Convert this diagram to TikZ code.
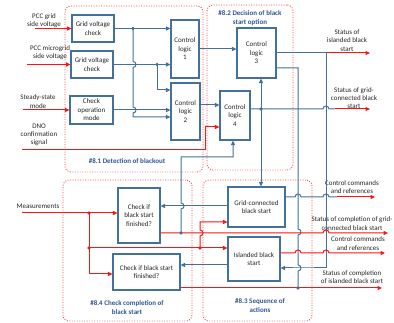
\documentclass[tikz,border=0pt]{standalone}
\usepackage{fontspec}
\setmainfont{Carlito}
\usetikzlibrary{arrows.meta}
\definecolor{bl}{RGB}{65,113,156}
\definecolor{lb}{RGB}{47,85,151}
\definecolor{rd}{RGB}{250,20,20}
\begin{document}
\begin{tikzpicture}[x=1pt,y=-1pt,
  blk/.style={draw=bl, line width=1.1pt, fill=white, align=center, inner sep=1pt, font=\fontsize{7}{8.5}\selectfont, text=black!85},
  txt/.style={align=center, inner sep=0pt, font=\fontsize{7}{8.2}\selectfont, text=black!85},
  lbl/.style={align=center, inner sep=0pt, font=\fontsize{7}{9}\selectfont\bfseries, text=lb},
  region/.style={draw=rd!80, line width=0.9pt, dash pattern=on 0.9pt off 1.6pt, rounded corners=6pt, inner sep=0pt},
  bline/.style={draw=bl, line width=1pt},
  rline/.style={draw=rd, line width=1pt},
  tip/.style={-{Triangle[length=4.5pt,width=4pt]}},
  jdot/.style={circle, fill=#1, inner sep=0pt, minimum size=3.2pt},
]
\useasboundingbox (0,0) rectangle (394,323);

% regions
\node[region, minimum width=138pt, minimum height=166pt] (r81) at (134,89) {};
\node[region, minimum width=86pt, minimum height=165pt] (r82) at (250,87.5) {};
\node[region, minimum width=129pt, minimum height=141pt] (r84) at (127.5,250.5) {};
\node[region, minimum width=109pt, minimum height=141pt] (r83) at (257.5,250.5) {};

\node[lbl] (l81) at (127,161) {\#8.1 Detection of blackout};
\node[lbl] (l82) at (250,18) {\#8.2 Decision of black\\start option};
\node[lbl] (l83) at (260,306) {\#8.3 Sequence of\\actions};
\node[lbl] (l84) at (127,307.5) {\#8.4 Check completion of\\black start};

% blocks
\node[blk, minimum width=42pt, minimum height=27pt] (gvc1) at (93,28.5) {Grid voltage\\check};
\node[blk, minimum width=42pt, minimum height=27pt] (gvc2) at (92,64.5) {Grid voltage\\check};
\node[blk, minimum width=43pt, minimum height=28pt] (com) at (91.5,110) {Check\\operation\\mode};
\node[blk, minimum width=28pt, minimum height=58pt] (cl1) at (185,49) {Control\\logic\\1};
\node[blk, minimum width=29pt, minimum height=57pt] (cl2) at (185.5,111.5) {Control\\logic\\2};
\node[blk, minimum width=39pt, minimum height=50pt] (cl3) at (256.5,53) {Control\\logic\\3};
\node[blk, minimum width=30pt, minimum height=49pt] (cl4) at (235,115.5) {Control\\logic\\4};
\node[blk, minimum width=42pt, minimum height=55pt] (chk1) at (139,215.5) {Check if\\black start\\finished?};
\node[blk, minimum width=67pt, minimum height=36pt] (chk2) at (146.5,272) {Check if black start\\finished?};
\node[blk, minimum width=57pt, minimum height=40pt] (gcbs) at (256.5,207) {Grid-connected\\black start};
\node[blk, minimum width=52pt, minimum height=44pt] (ibs) at (254,259) {Islanded black\\start};

% input texts
\node[txt] (t1) at (44,20.5) {PCC grid\\side voltage};
\node[txt] (t2) at (50,53) {PCC microgrid\\side voltage};
\node[txt] (t3) at (38,101.5) {Steady-state\\mode};
\node[txt] (t4) at (39,135) {DNO\\confirmation\\signal};
\node[txt] (t5) at (38,206) {Measurements};

% output texts
\node[txt] (o1t) at (347,40.5) {Status of\\islanded black\\start};
\node[txt] (o2t) at (354,98) {Status of grid-\\connected black\\start};
\node[txt] (o3t) at (352,187) {Control commands\\and references};
\node[txt] (o4t) at (352,223.5) {Status of completion of grid-\\connected black start};
\node[txt] (o5t) at (358,243.5) {Control commands\\and references};
\node[txt] (o6t) at (352,277) {Status of completion\\of islanded black start};

% free ends
\coordinate (in1) at (35,28.5);
\coordinate (in2) at (27,64.5);
\coordinate (in3) at (23,110);
\coordinate (in4) at (22,150);
\coordinate (in5) at (22,213);
\coordinate (out1) at (370,53);
\coordinate (out2) at (370,109);
\coordinate (out3) at (375,197);
\coordinate (out4) at (388,233);
\coordinate (out5) at (385,253);
\coordinate (out6) at (382,288);

% junctions
\node[jdot=bl] (j1) at (133,28.5) {};
\node[jdot=bl] (j2) at (157,64.5) {};
\node[jdot=bl] (j3) at (261,109) {};
\node[jdot=bl] (j4) at (181,233) {};
\node[jdot=rd] (j5) at (89,213) {};
\node[jdot=rd] (j6) at (89,248) {};
\node[jdot=rd] (j7) at (200,248) {};
\node[jdot=bl] (j8) at (298,288) {};

% inputs (red)
\draw[rline,tip] (in1) -- (in1 -| gvc1.west);
\draw[rline,tip] (in2) -- (in2 -| gvc2.west);
\draw[rline,tip] (in3) -- (in3 -| com.west);
\draw[rline,tip] (in4) -- (205,150) -- (205,127) -- (cl4.west |- 0,127);

% detection of blackout
\draw[bline,tip] (gvc1.east) -- (gvc1.east -| cl1.west);
\draw[bline,tip] (gvc2.east) -- (gvc2.east -| cl1.west);
\draw[bline,tip] (com.east) -- (com.east -| cl2.west);
\draw[bline,tip] (j1.center) -- (133,61.5) arc[start angle=90,end angle=-90,radius=3pt]
  -- (133,107) arc[start angle=90,end angle=-90,radius=3pt] -- (133,117) -- (cl2.west |- 0,117);
\draw[bline,tip] (j2.center) -- (157,90) -- (cl2.west |- 0,90);

% decision
\draw[bline,tip] (cl1.east) -- (cl1.east -| cl3.west);
\draw[bline,tip] (cl2.east |- 0,105) -- (cl4.west |- 0,105);
\draw[bline] (cl4.east |- 0,109) -- (323,109) arc[start angle=180,end angle=0,radius=3pt] -- (335,109);
\draw[rline,tip] (335,109) -- (out2);
\draw[bline,tip] (j3.center) -- (cl3.south -| j3);
\draw[bline,tip] (j3.center) -- (gcbs.north -| j3);
\draw[bline] (cl3.east) -- (327,53);
\draw[rline,tip] (327,53) -- (out1);
\draw[bline,tip] (326,53) -- (326,268) -- (301,268) -- (ibs.east |- 0,268);
\draw[bline] (cl3.east |- 0,68) -- (298,68) -- (298,229) arc[start angle=90,end angle=-90,radius=3pt]
  -- (298,265) arc[start angle=90,end angle=-90,radius=3pt] -- (j8.center);

% sequence outputs
\draw[bline] (gcbs.east |- 0,197) -- (295,197) arc[start angle=180,end angle=0,radius=3pt]
  -- (323,197) arc[start angle=180,end angle=0,radius=3pt] -- (337,197);
\draw[rline,tip] (337,197) -- (out3);
\draw[rline,tip] (ibs.east |- 0,253) -- (295,253) arc[start angle=180,end angle=0,radius=3pt]
  -- (323,253) arc[start angle=180,end angle=0,radius=3pt] -- (out5);
\draw[bline,tip] (gcbs.west |- 0,206) -- (chk1.east |- 0,206);
\draw[bline,tip] (ibs.west |- 0,265) -- (chk2.east |- 0,265);

% completion checks
\draw[rline,tip] (chk1.east |- 0,233) -- (323,233) arc[start angle=180,end angle=0,radius=3pt] -- (out4);
\draw[rline,tip] (chk2.east |- 0,288) -- (out6);
\draw[bline,tip] (j4.center) -- (181,209) arc[start angle=-90,end angle=90,radius=3pt]
  -- (181,157) -- (233,157) -- (cl4.south -| 233,0);

% measurements
\draw[rline,tip] (in5) -- (in5 -| chk1.west);
\draw[rline,tip] (j5.center) -- (89,274) -- (chk2.west |- 0,274);
\draw[rline,tip] (j6.center) -- (ibs.west |- 0,248);
\draw[rline,tip] (j7.center) -- (200,236) arc[start angle=-90,end angle=90,radius=3pt]
  -- (200,222) -- (gcbs.west |- 0,222);

% redraw dots on top
\node[jdot=bl] at (j1) {};
\node[jdot=bl] at (j2) {};
\node[jdot=bl] at (j3) {};
\node[jdot=bl] at (j4) {};
\node[jdot=rd] at (j5) {};
\node[jdot=rd] at (j6) {};
\node[jdot=rd] at (j7) {};
\node[jdot=bl] at (j8) {};
\end{tikzpicture}
\end{document}
